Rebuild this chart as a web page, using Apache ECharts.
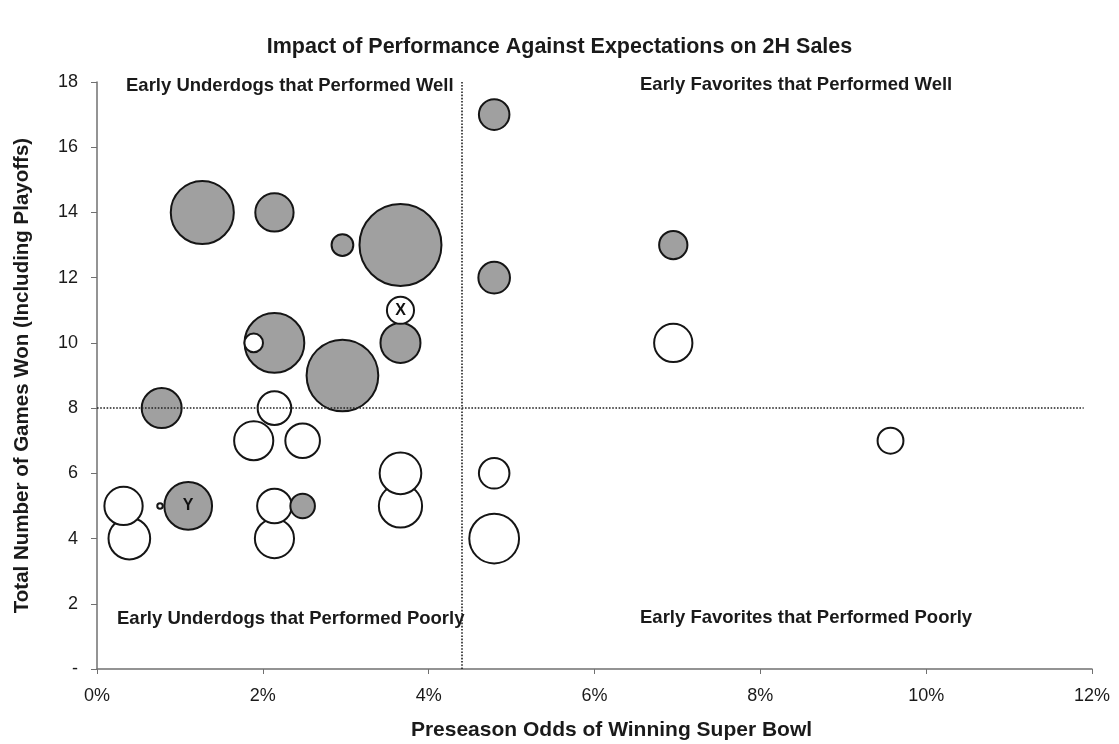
<!DOCTYPE html>
<html>
<head>
<meta charset="utf-8">
<title>Impact of Performance Against Expectations on 2H Sales</title>
<script src="https://cdn.jsdelivr.net/npm/echarts@6/dist/echarts.min.js"></script>
<style>
  html, body { margin: 0; padding: 0; background: #fff; }
  #chart { width: 1119px; height: 744px; }
</style>
</head>
<body>
<div id="chart"></div>
<script>
// Preseason odds of winning the Super Bowl (%)
const odds = [4.79, 1.27, 2.14, 2.96, 3.66, 4.79, 6.95, 3.66, 3.66, 2.14,
              1.89, 2.96, 6.95, 0.78, 2.14, 1.89, 2.48, 9.57, 3.66, 4.79,
              0.32, 0.39, 0.76, 1.10, 2.14, 2.48, 2.14, 3.66, 4.79];
// Total games won, including playoffs
const wins = [17, 14, 14, 13, 13, 12, 13, 11, 10, 10,
              10, 9, 10, 8, 8, 7, 7, 7, 6, 6,
              5, 4, 5, 5, 5, 5, 4, 5, 4];
// 2H sales (relative index, bubble area)
const sales = [15, 60, 23, 8, 100, 16, 13, 12, 25, 54,
               6, 77, 23, 25, 18, 24, 19, 11, 27, 15,
               23, 27, 0.8, 35, 19, 10, 24, 29, 38];
// Whether 2H sales rose (filled) or not (open)
const salesUp = [1, 1, 1, 1, 1, 1, 1, 0, 1, 1,
                 0, 1, 0, 1, 0, 0, 0, 0, 0, 0,
                 0, 0, 0, 1, 0, 1, 0, 0, 0];
// Callout names
const callouts = ['', '', '', '', '', '', '', 'X', '', '',
                  '', '', '', '', '', '', '', '', '', '',
                  '', '', '', 'Y', '', '', '', '', ''];

const xTicks = [0, 2, 4, 6, 8, 10, 12];
const oddsThreshold = 4.4;
const winsThreshold = 8;
const winsLineEnd = 11.9;

const quadrantLabels = [
  'Early Underdogs that Performed Well',
  'Early Favorites that Performed Well',
  'Early Underdogs that Performed Poorly',
  'Early Favorites that Performed Poorly'
];

const FONT = '"Liberation Sans", Arial, Helvetica, sans-serif';
const MAX_R = 42;      // outer radius of the largest bubble, px
const BORDER = 2;
const QUAD_FONT = 'bold 18.5px ' + FONT;

// Larger bubbles first so smaller ones sit on top
const order = sales.map((s, i) => i).sort((a, b) => sales[b] - sales[a]);
const bubbles = order.map(i => ({
  value: [odds[i], wins[i], sales[i]],
  name: callouts[i],
  itemStyle: { color: salesUp[i] ? '#a0a0a0' : '#ffffff' },
  label: { show: callouts[i] !== '' }
}));

const chart = echarts.init(document.getElementById('chart'), null, { renderer: 'canvas' });

chart.setOption({
  animation: false,
  backgroundColor: '#ffffff',
  title: {
    text: 'Impact of Performance Against Expectations on 2H Sales',
    left: 'center',
    top: 31,
    textStyle: { fontFamily: FONT, fontSize: 21.5, fontWeight: 'bold', color: '#1a1a1a' }
  },
  grid: { left: 97, right: 27, top: 82, bottom: 75, containLabel: false, outerBoundsMode: 'none' },
  xAxis: {
    type: 'value',
    min: 0, max: 12, interval: 2,
    name: 'Preseason Odds of Winning Super Bowl',
    nameLocation: 'middle',
    nameGap: 51,
    nameTextStyle: { fontFamily: FONT, fontSize: 21, fontWeight: 'bold', color: '#1a1a1a', padding: [0, 0, 0, 34] },
    axisLine: { lineStyle: { color: '#707070', width: 1.5 } },
    axisTick: { show: true, inside: false, length: 5, lineStyle: { color: '#707070' } },
    axisLabel: {
      margin: 18,
      fontFamily: FONT, fontSize: 18, color: '#1a1a1a',
      formatter: v => xTicks.indexOf(v) >= 0 ? v + '%' : ''
    },
    splitLine: { show: false }
  },
  yAxis: {
    type: 'value',
    min: 0, max: 18, interval: 2,
    name: 'Total Number of Games Won (Including Playoffs)',
    nameLocation: 'middle',
    nameGap: 64,
    nameTextStyle: { fontFamily: FONT, fontSize: 20.5, fontWeight: 'bold', color: '#1a1a1a' },
    axisLine: { show: true, lineStyle: { color: '#707070', width: 1.5 } },
    axisTick: { show: true, inside: false, length: 6, lineStyle: { color: '#707070' } },
    axisLabel: {
      margin: 19,
      fontFamily: FONT, fontSize: 18, color: '#1a1a1a',
      formatter: v => v === 0 ? '-' : String(v)
    },
    splitLine: { show: false }
  },
  series: [
    {
      type: 'scatter',
      z: 2,
      data: bubbles,
      symbol: 'circle',
      symbolSize: val => Math.max(2, 2 * MAX_R * Math.sqrt(val[2] / 100) - BORDER),
      itemStyle: { borderColor: '#151515', borderWidth: BORDER, opacity: 1 },
      label: {
        position: 'inside',
        formatter: p => p.name,
        fontFamily: FONT, fontSize: 16, fontWeight: 'bold', color: '#111'
      },
      emphasis: { disabled: true }
    },
    {
      type: 'line',
      z: 3,
      data: [],
      silent: true,
      markLine: {
        silent: true,
        symbol: ['none', 'none'],
        label: { show: false },
        lineStyle: { type: 'dotted', color: '#222', width: 1.6 },
        data: [
          [{ coord: [oddsThreshold, 0] }, { coord: [oddsThreshold, 18] }],
          [{ coord: [0, winsThreshold] }, { coord: [winsLineEnd, winsThreshold] }]
        ]
      }
    }
  ],
  graphic: [
    { type: 'text', left: 126, top: 76, style: { text: quadrantLabels[0], font: QUAD_FONT, fill: '#1a1a1a' } },
    { type: 'text', left: 640, top: 75, style: { text: quadrantLabels[1], font: QUAD_FONT, fill: '#1a1a1a' } },
    { type: 'text', left: 117, top: 609, style: { text: quadrantLabels[2], font: QUAD_FONT, fill: '#1a1a1a' } },
    { type: 'text', left: 640, top: 608, style: { text: quadrantLabels[3], font: QUAD_FONT, fill: '#1a1a1a' } }
  ]
});
</script>
</body>
</html>
